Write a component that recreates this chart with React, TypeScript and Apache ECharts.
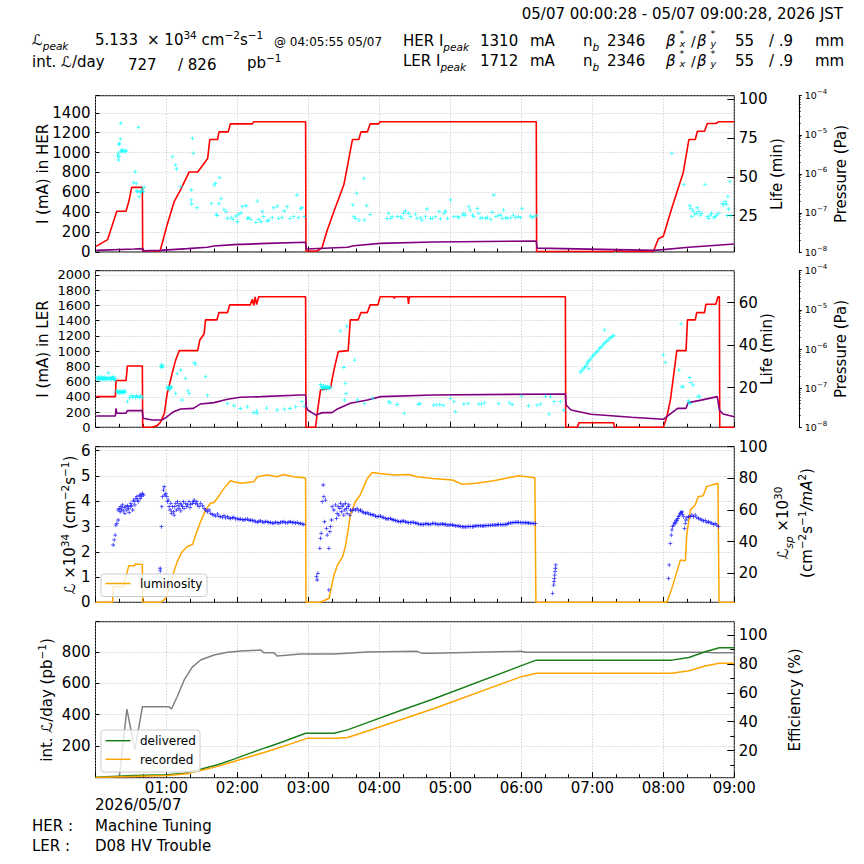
import React, { useEffect, useRef } from 'react';
import * as echarts from 'echarts';

const FONT = 'DejaVu Sans';

// ---------- data (time in hours since 00:00 on 2026/05/07) ----------
const timeLabels = ['', '01:00', '02:00', '03:00', '04:00', '05:00', '06:00', '07:00', '08:00', '09:00'];

// HER current [h, mA]
const herCurrent = [[0.01,57],[0.17,124],[0.30,410],[0.43,410],[0.47,510],[0.51,650],[0.66,650],[0.665,10],[0.91,10],[1.01,275],[1.11,510],[1.20,628],[1.32,805],[1.44,805],[1.58,940],[1.61,1131],[1.72,1131],[1.74,1208],[1.87,1208],[1.90,1289],[2.21,1289],[2.23,1310],[2.96,1310],[2.965,10],[3.12,10],[3.19,40],[3.26,208],[3.36,410],[3.50,678],[3.62,1131],[3.71,1131],[3.74,1208],[3.83,1208],[3.87,1289],[3.99,1289],[4.01,1310],[6.21,1310],[6.215,5],[7.30,5],[7.33,25],[7.36,5],[7.40,20],[7.43,5],[7.86,5],[7.88,40],[7.93,134],[8.00,158],[8.12,443],[8.28,796],[8.36,1131],[8.45,1131],[8.48,1215],[8.58,1215],[8.62,1292],[8.74,1292],[8.78,1310],[9.0,1310]];
// HER pressure [h, Pa]
const herPressure = [[0.01,1.10e-8],[0.545,1.19e-8],[0.66,1.22e-8],[0.67,1.08e-8],[0.91,1.10e-8],[1.295,1.22e-8],[1.576,1.32e-8],[1.67,1.42e-8],[1.95,1.54e-8],[2.42,1.66e-8],[2.96,1.77e-8],[2.97,1.19e-8],[3.55,1.32e-8],[3.64,1.45e-8],[4.01,1.66e-8],[4.75,1.80e-8],[6.21,1.91e-8],[6.22,1.26e-8],[7.88,1.10e-8],[8.36,1.32e-8],[9.0,1.60e-8]];
// HER lifetime [h, min]
const herLife = [[0.31,63.4],[0.32,65.1],[0.325,60.8],[0.33,70.9],[0.335,62.9],[0.34,71.3],[0.35,74.3],[0.355,84.4],[0.36,66.1],[0.37,67.2],[0.38,66.8],[0.40,66.6],[0.42,66.1],[0.43,67.0],
[0.536,46.4],[0.559,53.3],[0.573,45.8],[0.582,40.9],[0.59,40.4],[0.605,81.8],[0.614,37.2],[0.628,40.0],[0.637,40.9],[0.647,40.4],[0.661,42.6],[0.675,40.4],[0.684,43.2],
[1.084,62.9],[1.13,57.6],[1.14,55.0],[1.20,43.6],[1.35,41.5],[1.35,35.1],[1.355,32.5],[1.365,74.7],[1.38,65.1],[1.43,30.1],
[1.633,32.9],[1.67,44.7],[1.69,45.8],[1.70,25.9],[1.717,25.0],[1.74,32.7],[1.75,49.4],[1.77,36.1],[1.81,29.1],[1.84,27.6],[1.86,23.3],[1.91,23.7],[1.94,22.6],[1.98,24.8],[2.0,21.1],[2.02,25.9],[2.05,26.9],[2.07,30.8],[2.12,31.4],[2.14,23.3],[2.16,23.7],[2.19,22.6],[2.26,20.7],[2.28,34.4],[2.30,22.6],[2.33,21.1],[2.35,27.6],[2.37,24.4],[2.42,21.6],[2.44,22.2],[2.49,23.7],[2.51,30.1],[2.56,31.2],[2.58,23.3],[2.63,23.9],[2.66,28.0],[2.70,30.8],[2.74,23.3],[2.79,24.4],[2.84,38.3],[2.86,23.7],[2.89,29.7],[2.91,30.1],[2.94,24.4],
[3.625,31.9],[3.64,24.4],[3.66,23.3],[3.68,39.4],[3.71,22.2],[3.78,49.0],[3.79,22.2],[3.82,31.4],[3.87,25.9],
[4.107,23.3],[4.13,26.5],[4.155,23.3],[4.18,24.4],[4.25,24.4],[4.295,24.4],[4.32,23.3],[4.34,26.5],[4.365,28.0],[4.41,26.5],[4.44,24.4],[4.51,25.9],[4.53,23.3],[4.58,23.7],[4.60,22.2],[4.65,24.4],[4.67,29.3],[4.72,23.3],
[4.745,23.3],[4.79,24.4],[4.84,27.6],[4.86,22.9],[4.91,26.5],[4.93,28.0],[4.96,23.3],[5.0,35.1],[5.05,24.4],[5.10,24.4],[5.12,23.7],[5.17,25.4],[5.19,26.5],[5.21,25.0],[5.26,30.8],[5.28,28.6],[5.31,25.4],[5.33,24.4],[5.38,29.7],[5.40,26.5],[5.42,23.3],[5.45,23.7],[5.50,23.3],[5.52,23.9],[5.57,22.6],[5.59,27.2],[5.61,38.3],[5.64,24.4],[5.68,25.0],[5.71,25.4],[5.73,23.3],[5.75,28.6],[5.78,23.7],[5.80,23.3],[5.85,23.7],[5.89,25.4],[5.92,23.7],[5.96,24.4],[5.99,23.7],[6.01,29.7],[6.13,24.8],[6.15,23.7],[6.18,24.4],[6.21,25.0],
[8.12,65.1],[8.29,45.1],[8.37,31.4],[8.39,29.7],[8.40,24.4],[8.42,28.0],[8.44,26.0],[8.47,26.5],[8.48,30.1],[8.50,27.6],[8.52,25.4],[8.54,26.5],[8.59,45.1],[8.62,24.4],[8.64,23.3],[8.66,25.4],[8.68,26.5],[8.71,23.7],[8.73,24.4],[8.75,25.4],[8.78,26.5],[8.83,32.9],[8.85,31.9],[8.87,34.0],[8.89,32.5],[8.90,25.0],[8.91,37.2],[8.92,29.3],[8.94,46.9],[8.95,25.0]];

// LER current [h, mA]
const lerCurrent = [[0.01,403],[0.28,403],[0.29,613],[0.43,613],[0.45,805],[0.66,805],[0.665,0],[0.80,0],[0.87,22],[0.92,74],[0.97,184],[1.01,446],[1.03,512],[1.08,709],[1.13,884],[1.18,1006],[1.44,1006],[1.47,1146],[1.53,1225],[1.55,1409],[1.71,1409],[1.74,1505],[1.86,1505],[1.89,1606],[2.18,1606],[2.21,1680],[2.23,1600],[2.25,1712],[2.27,1610],[2.30,1712],[2.96,1712],[2.965,0],[3.10,0],[3.13,228],[3.17,490],[3.31,512],[3.36,753],[3.42,993],[3.56,1006],[3.59,1409],[3.70,1409],[3.74,1505],[3.83,1505],[3.87,1606],[3.98,1606],[4.01,1712],[4.20,1712],[4.21,1690],[4.22,1712],[4.40,1712],[4.41,1620],[4.42,1712],[6.62,1712],[6.625,0],[6.79,0],[6.81,60],[7.30,60],[7.31,0],[8.0,0],[8.05,140],[8.10,359],[8.19,1006],[8.32,1006],[8.34,1409],[8.45,1409],[8.47,1505],[8.58,1505],[8.60,1615],[8.74,1615],[8.77,1712],[8.79,1712],[8.795,0],[9.0,0]];
// LER pressure [h, Pa]
const lerPressure = [[0.01,1.94e-8],[0.28,1.94e-8],[0.29,3.05e-8],[0.30,2.28e-8],[0.43,2.28e-8],[0.45,2.67e-8],[0.66,2.67e-8],[0.67,1.70e-8],[0.80,1.54e-8],[0.94,1.54e-8],[1.01,1.87e-8],[1.10,2.51e-8],[1.20,2.94e-8],[1.38,3.05e-8],[1.48,3.95e-8],[1.67,4.27e-8],[1.86,5.19e-8],[2.04,5.84e-8],[2.33,6.07e-8],[2.89,6.70e-8],[2.96,6.70e-8],[2.97,3.37e-8],[2.99,2.77e-8],[3.10,2.07e-8],[3.20,2.37e-8],[3.33,2.37e-8],[3.40,2.88e-8],[3.59,4.10e-8],[3.83,4.99e-8],[4.02,6.07e-8],[4.75,6.70e-8],[6.62,7.10e-8],[6.63,3.72e-8],[6.70,2.77e-8],[6.98,2.15e-8],[7.55,1.80e-8],[8.0,1.60e-8],[8.20,3.05e-8],[8.32,3.05e-8],[8.35,4.27e-8],[8.50,4.80e-8],[8.76,6.07e-8],[8.79,2.77e-8],[8.84,2.19e-8],[9.0,1.87e-8]];
// LER lifetime [h, min]
const lerLife = [[0.02,24.6],[0.03,23.8],[0.04,25.0],[0.05,24.2],[0.06,24.8],[0.07,23.9],[0.08,24.5],[0.09,25.1],[0.10,24.0],[0.11,24.6],[0.12,23.7],[0.13,24.9],[0.14,24.3],[0.15,24.7],[0.16,23.9],[0.17,24.5],[0.18,27.0],[0.19,24.4],[0.20,24.0],[0.21,24.8],[0.22,24.2],[0.23,23.8],[0.24,24.6],[0.25,25.2],[0.26,24.1],[0.27,23.5],[0.28,24.3],
[0.30,18.6],[0.31,17.9],[0.32,18.3],[0.33,17.5],[0.34,18.1],[0.35,17.8],[0.36,18.4],[0.37,17.6],[0.38,18.0],[0.39,18.2],[0.40,17.7],[0.41,18.5],[0.42,17.9],[0.45,13.4],[0.48,15.2],[0.50,16.3],[0.52,15.6],[0.54,16.0],[0.56,15.4],[0.58,16.1],[0.60,15.7],[0.62,15.5],[0.64,16.2],[0.66,15.3],
[0.92,29.9],[0.93,30.8],[0.94,29.5],[0.95,30.3],
[1.01,20.0],[1.02,19.4],[1.03,20.6],[1.04,19.1],[1.05,20.2],[1.06,19.7],[1.07,20.4],
[1.13,17.3],[1.15,26.7],[1.20,28.3],[1.22,14.2],[1.27,24.4],[1.30,18.6],[1.32,17.3],[1.39,31.7],[1.41,31.1],[1.55,25.2],[1.58,16.5],[1.86,12.6],[1.95,11.5],[2.04,10.2],[2.14,11.0],[2.23,8.2],[2.27,9.1],[2.28,7.9],[2.41,10.4],[2.56,9.5],[2.66,9.9],[2.74,10.2],[2.82,11.0],[2.91,13.4],[2.94,11.3],
[3.17,21.5],[3.18,19.8],[3.19,20.5],[3.20,19.4],[3.21,20.9],[3.22,20.1],[3.23,19.6],[3.24,20.7],[3.25,20.2],[3.26,19.5],[3.27,20.4],[3.28,19.9],[3.29,20.6],[3.30,19.7],[3.31,20.3],
[3.45,46.7],[3.50,29.5],[3.51,14.2],[3.52,22.0],[3.53,17.3],[3.54,49.0],[3.65,33.0],[3.69,14.2],[3.79,12.6],[3.90,15.0],[4.13,13.4],[4.15,12.9],[4.25,12.1],[4.35,7.8],[4.55,12.1],[4.57,12.6],
[4.76,11.8],[4.80,11.9],[4.85,12.1],[4.90,11.6],[5.0,15.0],[5.05,13.4],[5.07,8.7],[5.19,12.3],[5.25,12.6],[5.40,12.3],[5.44,12.3],[5.48,12.9],[5.68,12.6],[5.83,12.9],[5.87,12.1],[6.0,16.0],[6.10,11.5],[6.22,11.8],[6.27,12.3],[6.34,16.0],[6.39,7.6],[6.41,15.7],[6.46,13.4],[6.55,13.4],[6.60,9.5],
[6.83,27.3],[6.85,27.9],[6.87,28.8],[6.89,29.6],[6.91,30.2],[6.93,31.5],[6.94,32.3],[6.95,29.1],[6.96,33.0],[6.98,33.6],[7.00,34.8],[7.02,35.4],[7.04,36.0],[7.06,36.9],[7.08,37.3],[7.10,38.4],[7.12,38.9],[7.14,39.7],[7.16,40.6],[7.17,47.1],[7.18,41.2],[7.20,41.9],[7.22,42.3],[7.24,43.1],[7.26,43.6],[7.28,44.0],[7.30,44.6],
[8.0,35.4],[8.03,31.9],[8.22,28.3],[8.25,50.0],[8.26,20.4],[8.28,20.4],[8.35,13.8],[8.36,12.9],[8.37,24.8],[8.38,12.6],[8.39,22.3],[8.42,21.2],[8.49,16.0],[8.51,15.7]];

// Luminosity [h, 1e34 cm^-2 s^-1]
const luminosity = [[0.0,0],[0.24,0],[0.25,0.62],[0.39,0.62],[0.47,1.45],[0.55,1.45],[0.56,1.52],[0.66,1.5],[0.665,0],[0.92,0],[0.99,0.16],[1.06,0.82],[1.15,1.6],[1.22,2.0],[1.29,2.2],[1.37,2.3],[1.41,2.66],[1.48,3.19],[1.55,3.65],[1.62,3.92],[1.67,3.95],[1.74,4.22],[1.81,4.51],[1.90,4.81],[1.95,4.77],[2.05,4.71],[2.23,4.77],[2.28,4.97],[2.42,5.04],[2.56,4.97],[2.65,5.06],[2.79,4.97],[2.94,4.93],[2.96,4.9],[2.965,0],[3.17,0],[3.29,0.16],[3.31,0.42],[3.36,1.08],[3.41,1.48],[3.48,1.8],[3.52,2.2],[3.57,3.06],[3.59,3.45],[3.66,3.98],[3.73,4.25],[3.78,4.58],[3.83,4.9],[3.90,5.14],[4.01,5.10],[4.20,5.04],[4.41,5.06],[4.53,4.97],[4.75,4.9],[5.03,4.84],[5.17,4.67],[5.36,4.71],[5.59,4.80],[5.82,4.93],[5.96,5.01],[6.19,4.93],[6.205,0],[8.05,0],[8.12,0.55],[8.24,1.67],[8.31,1.64],[8.33,2.66],[8.38,3.65],[8.45,3.85],[8.49,4.18],[8.56,4.22],[8.61,4.58],[8.72,4.67],[8.77,4.71],[8.785,0],[9.0,0]];
// Specific luminosity [h, 1e30]
const specificLumi = [[0.249,37.9],[0.263,41.1],[0.277,44.2],[0.287,50.5],[0.301,51.6],[0.320,53.7],
[0.320,60.0],[0.334,61.1],[0.348,58.9],[0.357,62.1],[0.367,60.6],[0.381,63.2],[0.390,59.4],[0.404,61.5],[0.414,57.9],[0.428,62.1],[0.442,60.0],[0.451,62.7],[0.465,61.1],[0.475,58.5],[0.489,62.1],[0.498,64.2],[0.508,62.7],[0.522,60.0],[0.536,66.3],[0.545,65.3],[0.555,63.2],[0.569,67.4],[0.583,68.4],[0.592,66.3],[0.602,65.3],[0.616,69.1],[0.630,67.4],[0.638,69.9],[0.648,68.4],[0.662,70.5],[0.676,69.5],
[0.911,23.2],[0.912,21.5],[0.930,49.5],[0.934,62.1],[0.944,68.4],[0.958,72.6],[0.967,74.7],[0.977,69.5],[0.991,70.5],[1.005,68.4],[1.014,65.3],[1.024,66.3],[1.037,62.1],[1.052,60.0],[1.061,64.2],[1.071,57.9],[1.085,62.1],[1.099,58.9],[1.108,56.8],[1.117,62.1],[1.131,64.2],[1.145,60.0],[1.155,65.3],[1.164,62.7],[1.178,61.1],[1.192,64.2],[1.201,59.4],[1.211,63.2],[1.225,62.1],[1.239,65.3],[1.248,61.1],[1.272,64.2],[1.286,62.1],[1.295,63.2],[1.318,65.3],[1.333,61.5],[1.342,63.6],[1.365,64.2],[1.380,65.3],[1.389,66.3],[1.412,64.2],[1.427,65.3],[1.436,63.2],[1.459,62.1],[1.482,64.2],[1.506,62.7],[1.530,61.1],[1.553,60.0],[1.576,58.9],[1.600,60.0],[1.623,57.9],[1.646,57.2],[1.670,56.8],[1.694,56.2],[1.717,57.5],[1.740,56.0],[1.764,55.8],[1.788,55.5],[1.811,56.4],[1.834,55.0],[1.858,55.8],[1.881,54.9],[1.904,54.7],[1.928,55.1],[1.951,55.4],[1.975,54.4],[1.998,54.7],[2.022,54.0],[2.045,54.3],[2.069,53.9],[2.092,53.7],[2.116,54.1],[2.139,54.3],[2.163,53.5],[2.186,53.7],[2.210,53.3],[2.233,53.1],[2.257,52.8],[2.280,52.2],[2.303,52.9],[2.326,53.1],[2.350,52.5],[2.373,52.2],[2.397,52.8],[2.420,52.6],[2.443,52.0],[2.467,52.2],[2.490,51.8],[2.514,51.6],[2.537,52.3],[2.561,52.0],[2.584,51.7],[2.608,52.2],[2.631,52.5],[2.655,52.6],[2.678,51.9],[2.702,52.0],[2.725,52.4],[2.748,52.6],[2.772,52.0],[2.795,52.2],[2.819,51.8],[2.842,52.2],[2.866,51.5],[2.889,51.6],[2.912,51.2],[2.936,50.9],
[3.114,17.9],[3.123,15.8],[3.133,20.0],[3.161,35.8],[3.170,42.1],[3.180,45.3],[3.194,65.3],[3.208,75.8],[3.217,68.4],[3.227,52.6],[3.241,66.3],[3.255,48.4],[3.264,44.2],[3.288,9.5],[3.289,35.8],[3.302,46.3],[3.311,49.5],[3.325,53.7],[3.334,62.1],[3.358,60.0],[3.381,63.2],[3.395,54.7],[3.405,57.9],[3.419,62.1],[3.428,56.8],[3.442,61.1],[3.452,64.2],[3.466,58.9],[3.475,62.1],[3.489,63.2],[3.498,56.8],[3.513,60.0],[3.522,64.2],[3.536,61.1],[3.545,57.9],[3.560,62.1],[3.569,63.2],[3.583,56.8],[3.592,60.0],[3.616,59.4],[3.639,60.6],[3.662,60.0],[3.686,61.1],[3.709,59.4],[3.733,60.0],[3.756,58.9],[3.780,58.5],[3.803,57.9],[3.827,58.3],[3.850,57.6],[3.874,57.3],[3.897,57.0],[3.921,56.8],[3.944,56.2],[3.968,55.8],[3.991,56.0],[4.014,56.2],[4.038,55.5],[4.061,55.2],[4.085,54.6],[4.108,54.3],[4.131,54.5],[4.155,54.7],[4.178,54.0],[4.202,53.7],[4.225,53.3],[4.249,53.1],[4.272,52.8],[4.296,52.6],[4.319,52.9],[4.342,53.1],[4.366,52.6],[4.389,52.2],[4.412,52.0],[4.436,52.0],[4.459,52.3],[4.483,52.2],[4.506,51.8],[4.530,51.6],[4.553,51.2],[4.577,50.9],[4.600,51.0],[4.624,50.9],[4.647,51.3],[4.671,51.4],[4.694,51.0],[4.717,50.9],
[4.745,51.6],[4.768,51.5],[4.79,51.4],[4.815,51.0],[4.84,50.9],[4.865,51.1],[4.89,51.2],[4.91,51.0],[4.93,50.9],[4.955,50.6],[4.98,50.5],[5.005,50.7],[5.03,50.5],[5.05,50.3],[5.07,50.1],[5.095,50.0],[5.12,49.9],[5.145,49.6],[5.17,49.5],[5.19,49.4],[5.21,49.3],[5.235,49.5],[5.26,49.7],[5.285,49.6],[5.31,49.5],[5.33,49.7],[5.35,49.9],[5.375,50.0],[5.40,50.1],[5.425,50.0],[5.45,49.9],[5.47,50.0],[5.49,50.1],[5.515,50.2],[5.54,50.3],[5.565,50.4],[5.59,50.5],[5.615,50.6],[5.64,50.5],[5.66,50.7],[5.68,50.9],[5.705,50.8],[5.73,50.7],[5.755,50.8],[5.78,50.9],[5.80,51.2],[5.82,51.6],[5.845,51.8],[5.87,52.0],[5.895,52.1],[5.92,52.2],[5.94,52.3],[5.96,52.2],[5.985,52.1],[6.01,52.0],[6.035,51.9],[6.06,52.0],[6.08,51.9],[6.10,51.8],[6.125,51.7],[6.15,51.6],[6.175,51.5],[6.20,51.4],
[6.44,7.4],[6.455,12.6],[6.46,14.7],[6.465,16.8],[6.47,18.9],[6.475,21.1],[6.48,23.2],[6.485,25.3],
[8.074,16.8],[8.083,25.3],[8.098,38.9],[8.112,44.2],[8.121,47.4],[8.130,49.5],[8.145,50.5],[8.159,52.2],[8.168,51.6],[8.182,53.7],[8.191,53.1],[8.205,54.7],[8.215,55.8],[8.229,56.8],[8.238,57.9],[8.252,58.5],[8.262,58.9],[8.271,57.3],[8.285,55.8],[8.299,48.4],[8.309,51.6],[8.318,53.7],[8.332,55.2],[8.356,55.8],[8.379,55.8],[8.402,56.8],[8.426,55.8],[8.449,56.8],[8.473,55.2],[8.496,54.7],[8.520,54.3],[8.543,53.7],[8.566,53.1],[8.590,53.5],[8.613,52.2],[8.637,52.6],[8.660,52.0],[8.684,51.6],[8.707,50.9],[8.730,51.4],[8.754,50.5],[8.777,49.5]];

// Integrated luminosity [h, pb^-1] and efficiency [h, %]
const delivered = [[0.0,3],[0.54,14],[1.01,19],[1.25,29],[1.48,54],[1.72,82],[1.95,118],[2.18,156],[2.42,194],[2.65,230],[2.96,282],[3.36,282],[3.55,304],[3.83,350],[4.29,425],[4.75,498],[6.0,712],[6.21,747],[8.12,747],[8.36,764],[8.59,800],[8.79,826],[9.0,826]];
const recorded = [[0.0,2],[1.01,14],[1.29,25],[1.48,46],[1.72,72],[1.95,103],[2.18,135],[2.42,166],[2.56,187],[2.75,215],[2.98,250],[3.41,250],[3.55,256],[3.74,282],[4.02,325],[4.29,367],[4.57,409],[4.75,437],[6.0,642],[6.21,663],[8.12,663],[8.36,680],[8.59,710],[8.79,727],[9.0,727]];
const efficiency = [[0.335,1.5],[0.442,48.8],[0.554,20.5],[0.662,50.4],[1.037,50.4],[1.07,48.8],[1.15,57.3],[1.25,68.9],[1.36,77.6],[1.48,82.7],[1.67,86.2],[1.86,88.0],[2.05,88.9],[2.33,89.6],[2.37,87.8],[2.51,87.8],[2.56,85.5],[2.89,86.9],[3.36,86.9],[3.83,88.2],[4.53,88.7],[4.60,87.3],[4.75,87.3],[6.0,88.7],[6.06,88.0],[8.62,88.0],[8.70,87.8],[9.0,87.8]];

// axis ticks
const lifeTicksHER = [25, 50, 75, 100];
const lifeTicksLER = [20, 40, 60];
const lspTicks = [20, 40, 60, 80, 100];
const effTicks = [20, 40, 60, 80, 100];
const effMinorTicks = [10, 30, 50, 70, 90];
const pressureExponents: Record<string, string> = { '-8': '−8', '-7': '−7', '-6': '−6', '-5': '−5', '-4': '−4' };

// ---------- layout ----------
const GL = 95.5;
const GR = 864 - 734.3;
const panels = [
  { top: 95.7, height: 156.3 },
  { top: 270.7, height: 156.6 },
  { top: 446.7, height: 155.6 },
  { top: 621.7, height: 156.0 },
];

const GRIDLINE = { color: '#b0b0b0', type: [1, 2] as any, width: 0.8 };
const labelBase = { color: '#000', fontFamily: FONT, fontSize: 15 };
const PLUS = 'path://M2,0L3,0L3,2L5,2L5,3L3,3L3,5L2,5L2,3L0,3L0,2L2,2Z';

function mkX(i: number) {
  return {
    type: 'value', gridIndex: i, min: 0, max: 9, interval: 1,
    axisLine: { show: false, onZero: false },
    axisTick: { show: true, inside: true, length: 5.5, lineStyle: { color: '#000', width: 1 } },
    minorTick: { show: true, splitNumber: 3, length: 3.5, lineStyle: { color: '#000', width: 1 } },
    axisLabel: {
      show: i === 3, ...labelBase, margin: 3,
      formatter: (v: number) => timeLabels[Math.round(v)] ?? '',
    },
    splitLine: { show: true, lineStyle: GRIDLINE },
  };
}

function mkLeft(i: number, max: number, interval: number, hideZero: boolean, fontSize = 15) {
  return {
    type: 'value', gridIndex: i, position: 'left', min: 0, max, interval,
    axisLine: { show: false, onZero: false },
    axisTick: { show: true, inside: true, length: 4, lineStyle: { color: '#000' } },
    axisLabel: {
      ...labelBase, fontSize, margin: 5,
      formatter: (v: number) => {
        const k = v / interval;
        if (Math.abs(k - Math.round(k)) > 1e-6) return '';
        if (hideZero && v === 0) return '';
        return String(Math.round(v));
      },
    },
    splitLine: { show: true, lineStyle: GRIDLINE },
  };
}

function mkRight(i: number, min: number, max: number, ticks: number[], tickLen: number) {
  return {
    type: 'value', gridIndex: i, position: 'right', min, max,
    axisLine: { show: false, onZero: false },
    axisTick: { show: true, inside: true, length: tickLen, customValues: ticks, lineStyle: { color: '#000' } },
    axisLabel: { ...labelBase, margin: 4.5, customValues: ticks },
    splitLine: { show: false },
  };
}

function mkRightMinor(i: number, min: number, max: number, ticks: number[]) {
  return {
    type: 'value', gridIndex: i, position: 'right', min, max,
    axisLine: { show: false, onZero: false },
    axisTick: { show: true, inside: true, length: 4, customValues: ticks, lineStyle: { color: '#000' } },
    axisLabel: { show: false },
    splitLine: { show: false },
  };
}

const pressureMinor: number[] = [];
for (let e = -8; e <= -5; e++) for (let m = 2; m <= 9; m++) pressureMinor.push(Number((m * Math.pow(10, e)).toPrecision(3)));

function mkPressure(i: number) {
  return {
    type: 'log', logBase: 10, gridIndex: i, position: 'right', offset: 64.5, min: 1e-8, max: 1e-4,
    axisLine: { show: true, onZero: false, lineStyle: { color: '#000', width: 1 } },
    axisTick: { show: true, inside: false, length: 3, lineStyle: { color: '#000' } },
    axisLabel: {
      color: '#000', fontFamily: FONT, fontSize: 9.5, margin: 6,
      formatter: (v: number) => {
        const e = pressureExponents[String(Math.round(Math.log10(v)))];
        return e ? `{b|10}{p|${e}}` : '';
      },
      rich: {
        b: { fontFamily: FONT, fontSize: 9.5, color: '#000', lineHeight: 14 },
        p: { fontFamily: FONT, fontSize: 7, color: '#000', lineHeight: 8, verticalAlign: 'top' },
      },
    },
    splitLine: { show: false },
  };
}
function mkPressureMinor(i: number) {
  return {
    type: 'log', logBase: 10, gridIndex: i, position: 'right', offset: 64.5, min: 1e-8, max: 1e-4,
    axisLine: { show: false, onZero: false },
    axisTick: { show: true, inside: false, length: 1.8, customValues: pressureMinor, lineStyle: { color: '#000' } },
    axisLabel: { show: false },
    splitLine: { show: false },
  };
}

// ---------- text helpers ----------
function txt(x: number, y: number, text: string, o: any = {}) {
  const align = o.align || 'left';
  const style: any = {
    text, fill: '#000', fontFamily: FONT, fontSize: o.size || 15,
    fontStyle: o.italic ? 'italic' : 'normal',
    align, verticalAlign: 'middle', textAlign: align, textVerticalAlign: 'middle',
  };
  if (o.lineHeight) style.lineHeight = o.lineHeight;
  if (o.rich) style.rich = o.rich;
  return { type: 'text', x, y, rotation: o.rot || 0, z: 100, style };
}
const sub = (size = 10.5, italic = true) => ({ fontSize: size, fontFamily: FONT, fontStyle: italic ? 'italic' : 'normal', lineHeight: 16, verticalAlign: 'bottom', fill: '#000' });
const sup = (size = 10.5) => ({ fontSize: size, fontFamily: FONT, lineHeight: 12, verticalAlign: 'top', fill: '#000' });
const main = (size = 15, italic = false) => ({ fontSize: size, fontFamily: FONT, fontStyle: italic ? 'italic' : 'normal', lineHeight: 22, fill: '#000' });
const RICH = { a: main(), i: main(15, true), s: sub(), p: sup() };

const R90 = Math.PI / 2;

function headerRow(y: number, ring: string, cur: string) {
  return [
    txt(403, y, `{a|${ring} I}{s|peak}`, { rich: RICH }),
    txt(480, y, cur),
    txt(530, y, 'mA'),
    txt(583, y, '{a|n}{s|b}', { rich: RICH }),
    txt(607, y, '2346'),
    txt(666, y, 'β', { italic: true }),
    txt(679.5, y - 3, '*\nx', { size: 9.5, italic: true, lineHeight: 10 }),
    txt(691, y, '/', { size: 14 }),
    txt(697, y, 'β', { italic: true }),
    txt(710.5, y - 3, '*\ny', { size: 9.5, italic: true, lineHeight: 10 }),
    txt(735, y, '55'),
    txt(769, y, '/ .9'),
    txt(815, y, 'mm'),
  ];
}

function legendBox(x: number, y: number, w: number, h: number) {
  return { type: 'rect', z: 100, shape: { x, y, width: w, height: h, r: 3 }, style: { fill: 'rgba(255,255,255,0.8)', stroke: '#cccccc', lineWidth: 1 } };
}
function legendLine(x: number, y: number, color: string) {
  return { type: 'line', z: 101, shape: { x1: x, y1: y, x2: x + 25, y2: y }, style: { stroke: color, lineWidth: 1.5 } };
}

const graphics: any[] = [
  txt(843, 14, '05/07 00:00:28 - 05/07 09:00:28, 2026 JST', { align: 'right' }),
  txt(32, 40, '{a|ℒ}{s|peak}', { rich: RICH }),
  txt(95, 40, '5.133'),
  txt(147, 40, '{a|× 10}{p|34}{a| cm}{p|−2}{a|s}{p|−1}', { rich: RICH }),
  txt(274, 42, '@ 04:05:55 05/07', { size: 12 }),
  txt(32, 62, 'int. ℒ/day'),
  txt(128, 65, '727'),
  txt(178, 65, '/ 826'),
  txt(247, 63, '{a|pb}{p|−1}', { rich: RICH }),
  ...headerRow(41, 'HER', '1310'),
  ...headerRow(61, 'LER', '1712'),
  // axis titles
  txt(43, 174, 'I (mA) in HER', { align: 'center', rot: R90 }),
  txt(777, 174, 'Life (min)', { align: 'center', rot: R90 }),
  txt(841, 174, 'Pressure (Pa)', { align: 'center', rot: R90 }),
  txt(43, 349, 'I (mA) in LER', { align: 'center', rot: R90 }),
  txt(767, 349, 'Life (min)', { align: 'center', rot: R90 }),
  txt(841, 349, 'Pressure (Pa)', { align: 'center', rot: R90 }),
  txt(70, 525, '{i|ℒ}{a| ×10}{p|34}{a| (cm}{p|−2}{a|s}{p|−1}{a|)}', { align: 'center', rot: R90, rich: RICH }),
  txt(783, 523, '{a|ℒ}{s|sp}{a| ×10}{p|30}', { align: 'center', rot: R90, rich: RICH }),
  txt(807, 523, '{a|(cm}{p|−2}{a|s}{p|−1}{i|/mA}{p|2}{a|)}', { align: 'center', rot: R90, rich: RICH }),
  txt(47, 700, '{a|int. ℒ/day (pb}{p|−1}{a|)}', { align: 'center', rot: R90, rich: RICH }),
  txt(795, 700, 'Efficiency (%)', { align: 'center', rot: R90 }),
  // bottom notes
  txt(95, 805, '2026/05/07'),
  txt(32, 826, 'HER :'),
  txt(95, 826, 'Machine Tuning'),
  txt(32, 846, 'LER :'),
  txt(95, 846, 'D08 HV Trouble'),
  // legends
  legendBox(101, 574, 106, 22.5),
  legendLine(105.5, 583.5, '#ffa500'),
  txt(140, 584, 'luminosity', { size: 12 }),
  legendBox(101, 730, 99, 42),
  legendLine(105.5, 740.7, '#1a7f1a'),
  legendLine(105.5, 759.3, '#ffa500'),
  txt(140, 741, 'delivered', { size: 12 }),
  txt(140, 759.5, 'recorded', { size: 12 }),
];

const lineS = (xi: number, yi: number, data: number[][], color: string, width = 1.5, z = 3) => ({
  type: 'line', xAxisIndex: xi, yAxisIndex: yi, data, showSymbol: false, symbol: 'none',
  lineStyle: { color, width }, silent: true, z,
});
const dotS = (xi: number, yi: number, data: number[][], color: string) => ({
  type: 'scatter', xAxisIndex: xi, yAxisIndex: yi, data, symbol: PLUS, symbolSize: 4,
  itemStyle: { color }, silent: true, z: 4,
});

export default function App() {
  const ref = useRef<HTMLDivElement>(null);
  useEffect(() => {
    if (!ref.current) return;
    const chart = echarts.init(ref.current, null, { renderer: 'svg' });
    const option: any = {
      animation: false,
      backgroundColor: '#ffffff',
      grid: panels.map((p) => ({ left: GL, right: GR, top: p.top, height: p.height, show: true, borderColor: '#000', borderWidth: 1, backgroundColor: 'transparent', containLabel: false })),
      xAxis: [mkX(0), mkX(1), mkX(2), mkX(3)],
      yAxis: [
        mkLeft(0, 1572, 200, false),
        mkRight(0, 1.67, 102.1, lifeTicksHER, 7),
        mkPressure(0),
        mkPressureMinor(0),
        mkLeft(1, 2054.4, 200, false, 13),
        mkRight(1, 1.36, 75.06, lifeTicksLER, 7),
        mkPressure(1),
        mkPressureMinor(1),
        mkLeft(2, 6.16, 1, false),
        mkRight(2, 1.7, 100, lspTicks, 7),
        mkLeft(3, 991.2, 200, true),
        mkRight(3, 1.3, 109.2, effTicks, 7),
        mkRightMinor(3, 1.3, 109.2, effMinorTicks),
      ],
      series: [
        dotS(0, 1, herLife, '#00ffff'),
        lineS(0, 0, herCurrent, '#ff0000', 1.6),
        lineS(0, 2, herPressure, '#800080', 1.6),
        dotS(1, 5, lerLife, '#00ffff'),
        lineS(1, 4, lerCurrent, '#ff0000', 1.6),
        lineS(1, 6, lerPressure, '#800080', 1.6),
        lineS(2, 8, luminosity, '#ffa500', 1.5),
        dotS(2, 9, specificLumi, '#0000ff'),
        lineS(3, 11, efficiency, '#808080', 1.5),
        lineS(3, 10, delivered, '#1a7f1a', 1.5),
        lineS(3, 10, recorded, '#ffa500', 1.5),
      ],
      graphic: { elements: graphics },
    };
    chart.setOption(option);
    return () => chart.dispose();
  }, []);
  return <div ref={ref} style={{ position: 'absolute', left: 0, top: 0, width: 864, height: 864, background: '#fff' }} />;
}
